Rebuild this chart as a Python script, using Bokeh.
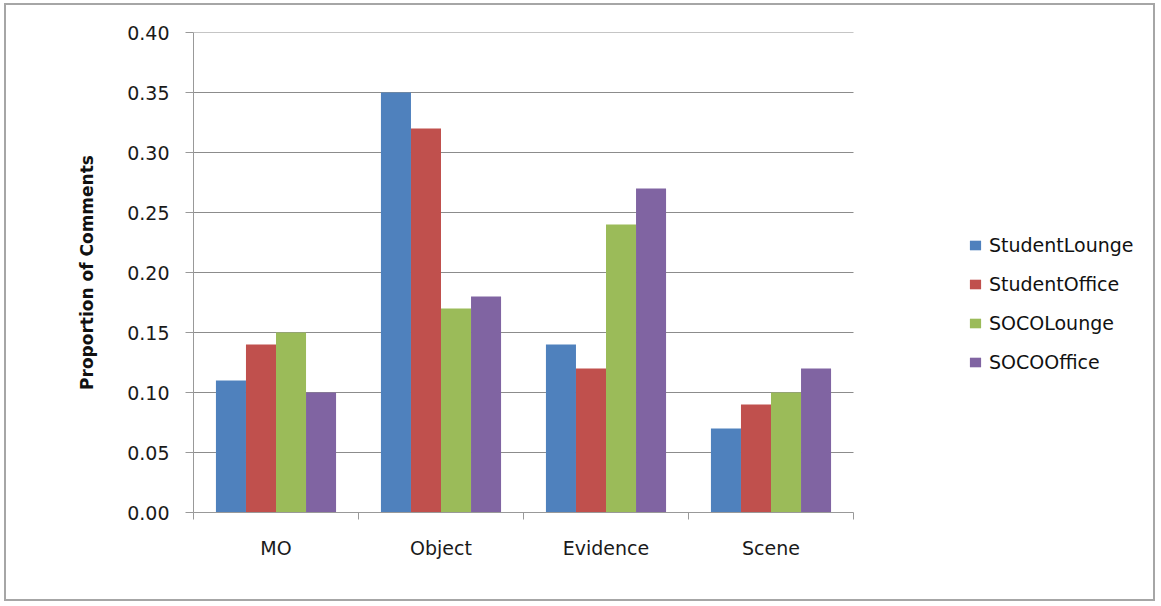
from bokeh.plotting import figure
from bokeh.models import ColumnDataSource, FixedTicker, Legend, LegendItem, Range1d
from bokeh.transform import dodge
from bokeh.embed import file_html
from bokeh.resources import INLINE

categories = ["MO", "Object", "Evidence", "Scene"]
series = ["StudentLounge", "StudentOffice", "SOCOLounge", "SOCOOffice"]
student_lounge = [0.11, 0.35, 0.14, 0.07]
student_office = [0.14, 0.32, 0.12, 0.09]
soco_lounge = [0.15, 0.17, 0.24, 0.10]
soco_office = [0.10, 0.18, 0.27, 0.12]
y_ticks = [0.0, 0.05, 0.10, 0.15, 0.20, 0.25, 0.30, 0.35, 0.40]

colors = ["#4F81BD", "#C0504D", "#9BBB59", "#8064A2"]
values = [student_lounge, student_office, soco_lounge, soco_office]

n = len(categories)
centers = [i + 0.5 for i in range(n)]
data = {"x": centers}
for name, vals in zip(series, values):
    data[name] = vals
source = ColumnDataSource(data)

FONT = "DejaVu Sans"
W, H = 1151, 598
LEFT, RIGHT, TOP, BOTTOM = 187, 4, 27, 91
frame_w = W - LEFT - RIGHT
plot_w = 660  # pixel width of the category area
x_end = n * frame_w / plot_w

p = figure(width=W, height=H, output_backend="svg", toolbar_location=None,
           x_range=Range1d(0, x_end), y_range=Range1d(0, 0.40),
           min_border_left=LEFT, min_border_right=RIGHT, min_border_top=TOP,
           min_border_bottom=BOTTOM, background_fill_color="white",
           border_fill_color="white")
p.styles = {"border": "2px solid #a6a6a6", "margin-left": "4px", "margin-top": "3px"}
p.outline_line_color = None
p.xgrid.grid_line_color = None
p.ygrid.grid_line_color = None

# horizontal gridlines limited to the category area
p.segment(x0=[0] * (len(y_ticks) - 1), x1=[n] * (len(y_ticks) - 1),
          y0=y_ticks[1:], y1=y_ticks[1:], line_color="#8c8c8c", line_width=1)

bw = 0.182
offsets = [-1.5 * bw, -0.5 * bw, 0.5 * bw, 1.5 * bw]
items = []
for name, col, off in zip(series, colors, offsets):
    r = p.vbar(x=dodge("x", off), top=name, width=bw, source=source,
               fill_color=col, line_color=None)
    items.append(LegendItem(label=name, renderers=[r]))

# x axis
xa = p.xaxis[0]
xa.bounds = (0, n)
xa.ticker = FixedTicker(ticks=centers, minor_ticks=list(range(n + 1)))
xa.major_label_overrides = {c: lab for c, lab in zip(centers, categories)}
xa.major_tick_line_color = None
xa.minor_tick_out = 7
xa.minor_tick_in = 0
xa.minor_tick_line_color = "#999999"
xa.axis_line_color = "#999999"
xa.major_label_standoff = 17
xa.major_label_text_font = FONT
xa.major_label_text_font_size = "19px"
xa.major_label_text_color = "#1a1a1a"

# y axis
ya = p.yaxis[0]
ya.ticker = FixedTicker(ticks=y_ticks, minor_ticks=[])
ya.major_label_overrides = {t: f"{t:.2f}" for t in y_ticks}
ya.major_tick_out = 8
ya.major_tick_in = 0
ya.major_tick_line_color = "#999999"
ya.axis_line_color = "#999999"
ya.major_label_standoff = 16
ya.major_label_text_font = FONT
ya.major_label_text_font_size = "19px"
ya.major_label_text_color = "#1a1a1a"
ya.axis_label = "Proportion of Comments"
ya.axis_label_text_font = FONT
ya.axis_label_text_font_size = "17px"
ya.axis_label_text_font_style = "bold"
ya.axis_label_text_color = "#111111"
ya.axis_label_standoff = 27

legend = Legend(items=items, location=(775, 139), orientation="vertical",
                glyph_width=14, glyph_height=12, label_height=21,
                spacing=17, label_standoff=7, padding=0, margin=0,
                border_line_color=None, background_fill_alpha=0,
                label_text_font=FONT, label_text_font_size="19px",
                label_text_color="#111111")
p.add_layout(legend, "center")

open("out.html", "w").write(file_html(p, INLINE))
